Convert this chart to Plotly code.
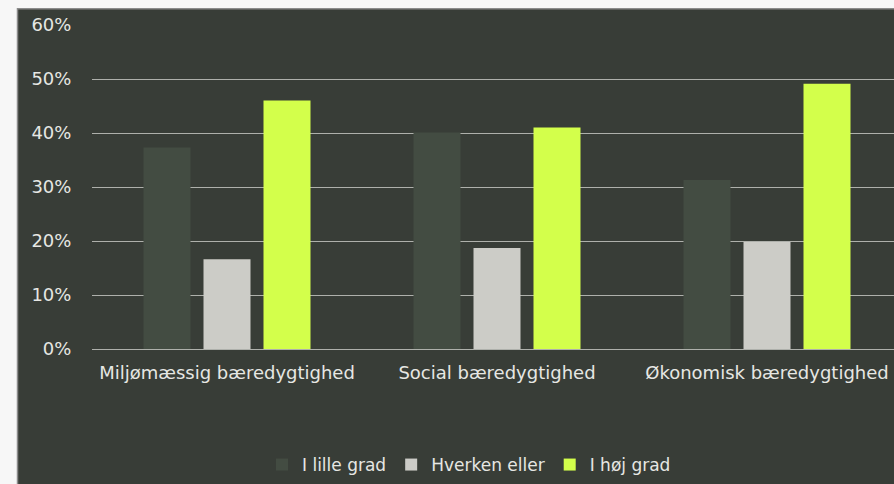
import plotly.graph_objects as go

# Categories and survey shares (percent)
categories = ["Miljømæssig bæredygtighed", "Social bæredygtighed", "Økonomisk bæredygtighed"]
series_names = ["I lille grad", "Hverken eller", "I høj grad"]
lille_grad = [37.3, 40.1, 31.3]
hverken_eller = [16.6, 18.7, 19.8]
hoej_grad = [46.0, 41.0, 49.1]
y_ticks = [0, 10, 20, 30, 40, 50, 60]

colors = ["#434C42", "#CCCCC7", "#D3FF4B"]
panel_bg = "#383D37"
text_col = "#E6E7E3"
grid_col = "#AEB0AB"
font_family = "'DejaVu Sans', sans-serif"
font_size = 18

W, H = 894, 484
ML, MR, MT, MB = 92, 0, 25, 135
plot_w = W - ML - MR
plot_h = H - MT - MB
cat_px = 270.0  # pixel width of one category slot


def px_to_paper_x(px):
    return (px - ML) / plot_w


def px_to_paper_y(py):
    return (H - MB - py) / plot_h


fig = go.Figure()
for name, vals, col in zip(series_names, [lille_grad, hverken_eller, hoej_grad], colors):
    fig.add_trace(go.Bar(
        x=categories, y=vals, name=name,
        marker=dict(color=col, line=dict(width=0)),
        hovertemplate="%{x}<br>" + name + ": %{y:.1f}%<extra></extra>",
    ))

# Dark panel with thin border behind the plot area
fig.add_shape(
    type="rect", xref="paper", yref="paper", layer="below",
    x0=px_to_paper_x(17.5), x1=px_to_paper_x(W + 20),
    y0=px_to_paper_y(H + 20), y1=px_to_paper_y(8.7),
    fillcolor=panel_bg, line=dict(color="#8C8C8C", width=1.5),
)

fig.update_layout(
    width=W, height=H,
    margin=dict(l=ML, r=MR, t=MT, b=MB, pad=0),
    paper_bgcolor="#F7F7F7",
    plot_bgcolor=panel_bg,
    barmode="group",
    bargap=1 - 180 / cat_px,
    bargroupgap=13 / 60,
    font=dict(family=font_family, size=font_size, color=text_col),
    showlegend=True,
    legend=dict(
        orientation="h", x=px_to_paper_x(469), xanchor="center",
        y=px_to_paper_y(465), yanchor="middle",
        font=dict(size=17, color=text_col), bgcolor="rgba(0,0,0,0)",
        itemwidth=30, traceorder="normal",
    ),
    xaxis=dict(
        type="category",
        range=[-0.5, -0.5 + plot_w / cat_px],
        showgrid=False, zeroline=False, showline=False,
        ticks="outside", ticklen=7, tickcolor="rgba(0,0,0,0)",
        tickfont=dict(size=font_size, color=text_col),
    ),
    yaxis=dict(
        range=[0, 60], tickvals=y_ticks, ticktext=[f"{v}%" for v in y_ticks],
        showgrid=True, gridcolor=grid_col, gridwidth=1.2,
        zeroline=True, zerolinecolor=grid_col, zerolinewidth=1.2, showline=False,
        ticks="outside", ticklen=16, tickcolor="rgba(0,0,0,0)",
        tickfont=dict(size=font_size, color=text_col),
    ),
)

fig.write_html("out.html")
